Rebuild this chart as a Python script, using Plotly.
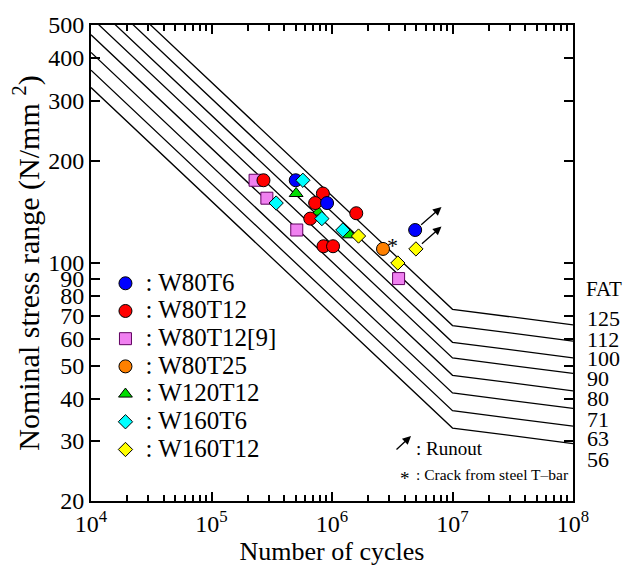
import numpy as np
import plotly.graph_objects as go

# ---- data ----
fat_classes = [125, 112, 100, 90, 80, 71, 63, 56]
n_curve = [1e4, 2e6, 1e7, 1e8]  # start, reference, knee, end

series_names = ["W80T6", "W80T12", "W80T12[9]", "W80T25", "W120T12", "W160T6", "W160T12"]
w80t6_n = [5.0e5, 9.1e5, 4.9e6]
w80t6_s = [175, 150, 125]
w80t12_n = [2.7e5, 8.4e5, 7.25e5, 6.6e5, 1.59e6, 8.5e5, 1.02e6]
w80t12_s = [175, 160, 150, 135, 140, 112, 112]
w80t12r_n = [2.3e5, 2.88e5, 5.1e5, 3.57e6]
w80t12r_s = [175, 155, 125, 90]
w80t25_n = [2.65e6]
w80t25_s = [110]
w120t12_n = [5.04e5, 7.7e5, 1.40e6]
w120t12_s = [160, 141, 121]
w160t6_n = [5.73e5, 3.44e5, 8.24e5, 1.23e6]
w160t6_s = [175, 150, 135, 125]
w160t12_n = [1.66e6, 3.52e6, 4.97e6]
w160t12_s = [120, 100, 110]

runout_from_n = [4.9e6, 4.97e6]
runout_from_s = [125, 110]
runout_to_n = [8.1e6, 8.1e6]
runout_to_s = [146, 128]
crack_n = [3.18e6]
crack_s = [112.5]

y_ticks = [20, 30, 40, 50, 60, 70, 80, 90, 100, 200, 300, 400, 500]
x_ticks = [1e4, 1e5, 1e6, 1e7, 1e8]
x_ticktext = ["10<sup>4</sup>", "10<sup>5</sup>", "10<sup>6</sup>", "10<sup>7</sup>", "10<sup>8</sup>"]

FONT = "'Liberation Serif', 'Times New Roman', 'DejaVu Serif', serif"
fig = go.Figure()

# FAT S-N curves (m=3 up to 1e7, m=22 beyond)
for fat in fat_classes:
    s_knee = fat * (n_curve[1] / n_curve[2]) ** (1 / 3)
    s_start = fat * (n_curve[1] / n_curve[0]) ** (1 / 3)
    s_end = s_knee * (n_curve[2] / n_curve[3]) ** (1 / 22)
    fig.add_trace(go.Scatter(x=[n_curve[0], n_curve[2], n_curve[3]], y=[s_start, s_knee, s_end],
                             mode="lines", line=dict(color="black", width=1.3),
                             showlegend=False, hoverinfo="skip"))

styles = {
    "W80T6": (w80t6_n, w80t6_s, "circle", 13, "#0000FF", "black", 4),
    "W80T12": (w80t12_n, w80t12_s, "circle", 13, "#FF0000", "black", 2),
    "W80T12[9]": (w80t12r_n, w80t12r_s, "square", 12, "#F080F0", "#600060", 0),
    "W80T25": (w80t25_n, w80t25_s, "circle", 13, "#FF8000", "black", 3),
    "W120T12": (w120t12_n, w120t12_s, "triangle-up", 12, "#00DD00", "black", 1),
    "W160T6": (w160t6_n, w160t6_s, "diamond", 11, "#00FFFF", "black", 5),
    "W160T12": (w160t12_n, w160t12_s, "diamond", 11, "#FFFF00", "black", 6),
}
order = sorted(series_names, key=lambda k: styles[k][6])
for name in order:
    xs, ys, sym, sz, col, lc, _ = styles[name]
    fig.add_trace(go.Scatter(x=xs, y=ys, mode="markers",
                             name="<span style='font-size:25px'>: " + name + "</span>",
                             legendrank=series_names.index(name) + 1,
                             marker=dict(symbol=sym, size=sz, color=col,
                                         line=dict(color=lc, width=1))))

ann = []
for n0, s0, n1, s1 in zip(runout_from_n, runout_from_s, runout_to_n, runout_to_s):
    ann.append(dict(x=np.log10(n1), y=np.log10(s1), ax=np.log10(n0), ay=np.log10(s0),
                    xref="x", yref="y", axref="x", ayref="y", text="", showarrow=True,
                    arrowhead=2, arrowsize=1.3, arrowwidth=1.3, arrowcolor="black",
                    startstandoff=6))
for n, s in zip(crack_n, crack_s):
    ann.append(dict(x=np.log10(n), y=np.log10(s), xref="x", yref="y", text="*",
                    showarrow=False, font=dict(family=FONT, size=22, color="black")))

# runout / crack legend
def px2paper(px, py):
    return (px - 91) / 482, (503 - py) / 483

hx, hy = px2paper(411, 437)
ann.append(dict(x=hx, y=hy, xref="paper", yref="paper", ax=-16, ay=15, text="",
                showarrow=True, arrowhead=2, arrowsize=1.3, arrowwidth=1.3, arrowcolor="black"))
tx, ty = px2paper(414, 450)
ann.append(dict(x=tx, y=ty, xref="paper", yref="paper", text=": Runout", showarrow=False,
                xanchor="left", yanchor="middle", font=dict(family=FONT, size=19, color="black")))
tx, ty = px2paper(398, 480)
ann.append(dict(x=tx, y=ty, xref="paper", yref="paper", text="*", showarrow=False,
                xanchor="left", yanchor="middle", font=dict(family=FONT, size=19, color="black")))
tx, ty = px2paper(414, 476)
ann.append(dict(x=tx, y=ty, xref="paper", yref="paper", text=": Crack from steel T–bar",
                showarrow=False, xanchor="left", yanchor="middle",
                font=dict(family=FONT, size=15.5, color="black")))

# FAT labels
fat_label_y = [318, 339, 358, 379, 399, 420, 440, 461]
tx, ty = px2paper(584, 288)
ann.append(dict(x=tx, y=ty, xref="paper", yref="paper", text="FAT", showarrow=False,
                xanchor="left", yanchor="middle", font=dict(family=FONT, size=21, color="black")))
for fat, py in zip(fat_classes, fat_label_y):
    tx, ty = px2paper(585, py)
    ann.append(dict(x=tx, y=ty, xref="paper", yref="paper", text=str(fat), showarrow=False,
                    xanchor="left", yanchor="middle", font=dict(family=FONT, size=22, color="black")))

minor_x = [m * 10 ** e for e in range(4, 8) for m in range(2, 10)]

fig.update_layout(
    width=628, height=569,
    margin=dict(l=91, r=55, t=20, b=66),
    paper_bgcolor="white", plot_bgcolor="white",
    font=dict(family=FONT, size=22, color="black"),
    annotations=ann,
    legend=dict(x=0.03, y=0.497, xanchor="left", yanchor="top", bgcolor="rgba(0,0,0,0)",
                font=dict(family=FONT, size=19, color="black"), tracegroupgap=0,
                itemsizing="trace"),
    xaxis=dict(type="log", range=[4, 8], tickvals=x_ticks, ticktext=x_ticktext,
               ticks="inside", ticklen=9, tickwidth=1.5, tickcolor="black",
               minor=dict(tickvals=minor_x, ticks="inside", ticklen=6, tickwidth=1.5,
                          tickcolor="black", showgrid=False),
               showline=True, linewidth=2, linecolor="black", mirror="allticks",
               showgrid=False, zeroline=False,
               tickfont=dict(family=FONT, size=24),
               title=dict(text="Number of cycles", font=dict(family=FONT, size=26), standoff=2)),
    yaxis=dict(type="log", range=[np.log10(20), np.log10(500)], tickvals=y_ticks,
               ticktext=[str(v) for v in y_ticks],
               ticks="inside", ticklen=9, tickwidth=1.5, tickcolor="black",
               showline=True, linewidth=2, linecolor="black", mirror="allticks",
               showgrid=False, zeroline=False,
               tickfont=dict(family=FONT, size=24),
               title=dict(text="Nominal stress range (N/mm <sup>2</sup>)",
                          font=dict(family=FONT, size=30), standoff=0)),
)

fig.write_html("out.html")
